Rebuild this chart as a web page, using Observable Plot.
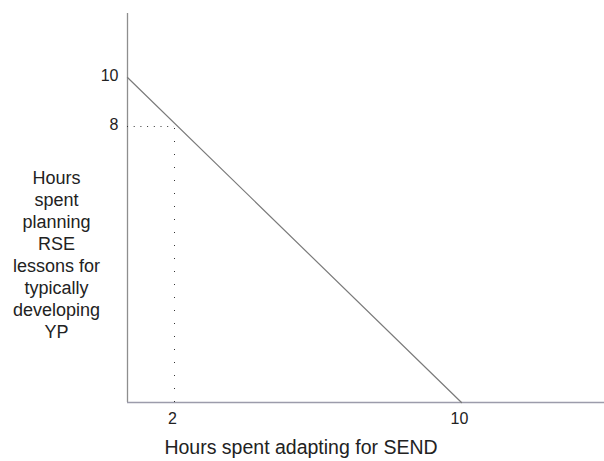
<!DOCTYPE html>
<html>
<head>
<meta charset="utf-8">
<script src="https://cdn.jsdelivr.net/npm/d3@7"></script>
<script src="https://cdn.jsdelivr.net/npm/@observablehq/plot@0.6"></script>
<style>
  html, body { margin: 0; padding: 0; background: #fff; }
  #chart svg { display: block; }
</style>
</head>
<body>
<div id="chart"></div>
<script>
// Budget-line data: planning hours (y) vs adapting hours (x)
const lineX = [0, 10];
const lineY = [10, 0];
// Highlighted point
const pointX = 2;
const pointY = 8;
// Tick labels
const xTicks = [2, 10];
const yTicks = [8, 10];
// Axis titles
const xTitle = "Hours spent adapting for SEND";
const yTitle = ["Hours", "spent", "planning", "RSE", "lessons for", "typically", "developing", "YP"];

const budget = lineX.map((x, i) => ({x, y: lineY[i]}));

const W = 604, H = 461;
const font = "'Liberation Sans', Arial, Helvetica, sans-serif";

const chart = Plot.plot({
  width: W,
  height: H,
  marginLeft: 127,
  marginRight: 0,
  marginTop: 13,
  marginBottom: 59,
  style: {fontFamily: font, fontSize: "16px", color: "#222", background: "#fff"},
  x: {type: "linear", domain: [0, 2, 10], range: [127, 174, 461], axis: null, label: null},
  y: {type: "linear", domain: [0, 8, 10], range: [402, 126, 77], axis: null, label: null},
  marks: [
    // axes lines
    Plot.ruleX([0], {stroke: "#8e8e8e", strokeWidth: 1.3}),
    Plot.ruleY([0], {stroke: "#9c9cab", strokeWidth: 1.3}),
    // dotted guides to the point
    Plot.ruleY([pointY], {x1: 0, x2: pointX, stroke: "#333", strokeWidth: 1, strokeDasharray: "1,5.7"}),
    Plot.ruleX([pointX], {y1: 0, y2: pointY, stroke: "#333", strokeWidth: 1, strokeDasharray: "1,12"}),
    // budget line
    Plot.line(budget, {x: "x", y: "y", stroke: "#7a7a7a", strokeWidth: 1.2}),
    // tick labels
    Plot.axisX(xTicks, {tickSize: 0, tickPadding: 10, fontSize: 16, fill: "#222", label: null, dx: -2, tickFormat: d => String(d)}),
    Plot.axisY(yTicks, {tickSize: 0, tickPadding: 9, fontSize: 16, fill: "#222", label: null, tickFormat: d => String(d), dy: -2}),
    // axis titles
    Plot.text([xTitle], {frameAnchor: "bottom", dy: 51, dx: -65, text: d => d, fontSize: 19.5, fill: "#222"}),
    Plot.text([yTitle.join("\n")], {frameAnchor: "left", dx: -71, dy: 46, text: d => d, fontSize: 18, lineHeight: 1.22, textAnchor: "middle", fill: "#222"})
  ]
});

document.getElementById("chart").appendChild(chart);
</script>
</body>
</html>
